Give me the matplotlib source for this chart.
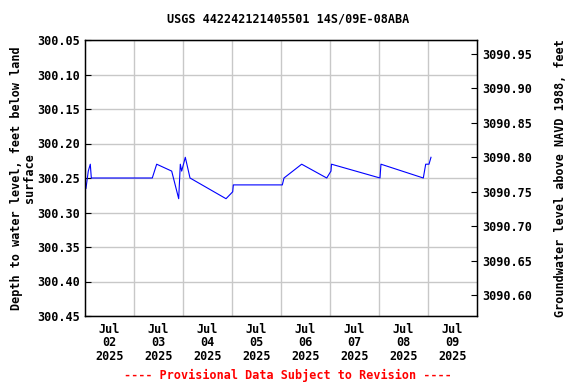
import matplotlib
matplotlib.use("Agg")
import matplotlib.pyplot as plt
import numpy as np

# Days since 2025-07-02 00:00, depth to water (ft below land surface)
days = [0.02, 0.067, 0.108, 0.129, 1.373, 1.463, 1.769, 1.912, 1.945, 1.973,
        2.047, 2.143, 2.878, 3.014, 3.027, 4.027, 4.061, 4.422, 4.933, 5.020,
        5.030, 6.020, 6.040, 6.904, 6.953, 7.020, 7.061]
depth = [300.265, 300.24, 300.23, 300.25, 300.25, 300.23, 300.24, 300.28, 300.23, 300.24,
         300.22, 300.25, 300.28, 300.27, 300.26, 300.26, 300.25, 300.23, 300.25, 300.24,
         300.23, 300.25, 300.23, 300.25, 300.23, 300.23, 300.22]

x_labels = ["Jul\n02\n2025", "Jul\n03\n2025", "Jul\n04\n2025", "Jul\n05\n2025",
            "Jul\n06\n2025", "Jul\n07\n2025", "Jul\n08\n2025", "Jul\n09\n2025"]
y_ticks = [300.05, 300.10, 300.15, 300.20, 300.25, 300.30, 300.35, 300.40, 300.45]
y2_ticks = [3090.95, 3090.90, 3090.85, 3090.80, 3090.75, 3090.70, 3090.65, 3090.60]
datum = 3391.02

font = {"family": "DejaVu Sans Mono", "weight": "bold", "size": 8.5}

fig = plt.figure(figsize=(5.76, 3.84), dpi=100)
ax = fig.add_axes([85/576, 68/384, 392/576, 276/384])
ax.plot(days, depth, color="#0000ff", linewidth=0.8)
ax.set_xlim(0, 8)
ax.set_ylim(300.45, 300.05)
ax.set_yticks(y_ticks)
ax.set_yticklabels([f"{v:.2f}" for v in y_ticks], fontdict=font)
ax.set_xticks(np.arange(8) + 0.5)
ax.set_xticklabels(x_labels, fontdict=font, linespacing=1.05)
ax.tick_params(axis="x", length=0, pad=5)
ax.tick_params(axis="y", length=4, direction="in")
ax.set_xticks(np.arange(1, 8), minor=True)
ax.tick_params(axis="x", which="minor", length=0)
ax.grid(True, which="minor", axis="x", color="#c8c8c8", linewidth=1)
ax.grid(True, which="major", axis="y", color="#c8c8c8", linewidth=1)
ax.set_axisbelow(True)
for s in ax.spines.values():
    s.set_linewidth(1)
ax.set_ylabel("Depth to water level, feet below land\nsurface", fontdict=font,
              labelpad=1, linespacing=0.95)

ax2 = ax.twinx()
ax2.set_ylim(datum - 300.45, datum - 300.05)
ax2.set_yticks(y2_ticks)
ax2.set_yticklabels([f"{v:.2f}" for v in y2_ticks], fontdict=font)
ax2.tick_params(axis="y", length=4, direction="in")
ax2.set_ylabel("Groundwater level above NAVD 1988, feet", fontdict=font, labelpad=16)

fig.text(0.5, 1 - 19/384, "USGS 442242121405501 14S/09E-08ABA", ha="center", va="center", **font)
fig.text(0.5, 1 - 375/384, "---- Provisional Data Subject to Revision ----", ha="center",
         va="center", color="red", **font)

fig.savefig("out.png", dpi=100)
